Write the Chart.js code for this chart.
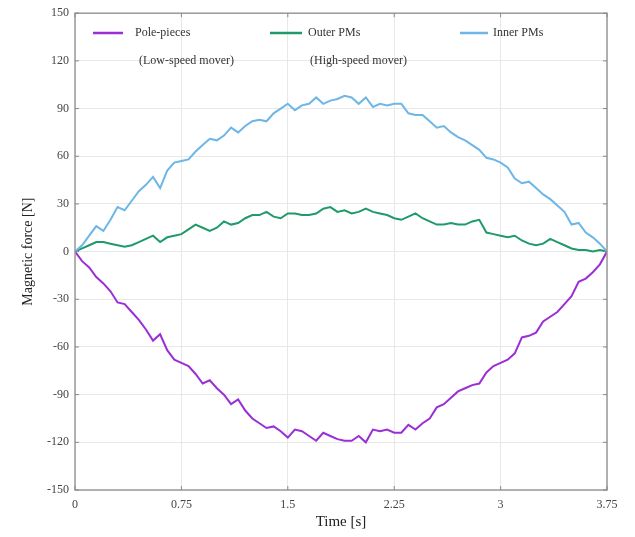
<!DOCTYPE html>
<html>
<head>
<meta charset="utf-8">
<script src="https://cdn.jsdelivr.net/npm/chart.js@4/dist/chart.umd.min.js"></script>
<style>
  html, body { margin: 0; padding: 0; background: #ffffff; }
  #wrap { width: 635px; height: 537px; }
</style>
</head>
<body>
<div id="wrap"><canvas id="c" width="635" height="537"></canvas></div>
<script>
// Time samples [s]
const time = [];
for (let i = 0; i <= 75; i++) time.push(+(i * 0.05).toFixed(2));

const seriesNames = ["Pole-pieces", "Outer PMs", "Inner PMs"];
const seriesSub = ["(Low-speed mover)", "(High-speed mover)", ""];

// Pole-pieces (Low-speed mover) [N]
const polePieces = [0, -6, -10, -16, -20, -25, -32, -33, -38, -43, -49, -56, -52, -62, -68, -70,
  -72, -77, -83, -81, -86, -90, -96, -93, -100, -105, -108, -111, -110, -113, -117, -112,
  -113, -116, -119, -114, -116, -118, -119, -119, -116, -120, -112, -113, -112, -114, -114,
  -109, -112, -108, -105, -98, -96, -92, -88, -86, -84, -83, -76, -72, -70, -68, -64, -54,
  -53, -51, -44, -41, -38, -33, -28, -19, -17, -13, -8, 0];

// Outer PMs (High-speed mover) [N]
const outerPMs = [0, 2, 4, 6, 6, 5, 4, 3, 4, 6, 8, 10, 6, 9, 10, 11, 14, 17, 15, 13, 15, 19, 17,
  18, 21, 23, 23, 25, 22, 21, 24, 24, 23, 23, 24, 27, 28, 25, 26, 24, 25, 27, 25, 24, 23, 21,
  20, 22, 24, 21, 19, 17, 17, 18, 17, 17, 19, 20, 12, 11, 10, 9, 10, 7, 5, 4, 5, 8, 6, 4, 2,
  1, 1, 0, 1, 0];

// Inner PMs [N]
const innerPMs = [0, 4, 10, 16, 13, 20, 28, 26, 32, 38, 42, 47, 40, 51, 56, 57, 58, 63, 67, 71,
  70, 73, 78, 75, 79, 82, 83, 82, 87, 90, 93, 89, 92, 93, 97, 93, 95, 96, 98, 97, 93, 97, 91,
  93, 92, 93, 93, 87, 86, 86, 82, 78, 79, 75, 72, 70, 67, 64, 59, 58, 56, 53, 46, 43, 44, 40,
  36, 33, 29, 25, 17, 18, 12, 9, 5, 0];

const xTicks = [0, 0.75, 1.5, 2.25, 3, 3.75];
const yTicks = [-150, -120, -90, -60, -30, 0, 30, 60, 90, 120, 150];

const colors = ["#9a2fd6", "#1f9a6a", "#6db6e6"];
const values = [polePieces, outerPMs, innerPMs];

const FONT = "'Liberation Serif', 'Times New Roman', serif";

const frameAndLegend = {
  id: 'frameAndLegend',
  afterDatasetsDraw(chart) {
    const { ctx, chartArea: a, scales } = chart;
    ctx.save();
    ctx.strokeStyle = '#9a9a9a';
    ctx.lineWidth = 1.5;
    ctx.strokeRect(a.left, a.top, a.right - a.left, a.bottom - a.top);
    // small inward tick marks
    ctx.strokeStyle = '#888';
    ctx.lineWidth = 1;
    ctx.beginPath();
    scales.y.ticks.forEach(t => {
      const y = scales.y.getPixelForValue(t.value);
      ctx.moveTo(a.left, y); ctx.lineTo(a.left + 4, y);
      ctx.moveTo(a.right, y); ctx.lineTo(a.right - 4, y);
    });
    scales.x.ticks.forEach(t => {
      const x = scales.x.getPixelForValue(t.value);
      ctx.moveTo(x, a.bottom); ctx.lineTo(x, a.bottom - 4);
      ctx.moveTo(x, a.top); ctx.lineTo(x, a.top + 4);
    });
    ctx.stroke();
    // legend
    const items = [
      { x0: 93, x1: 123, tx: 135, sx: 139 },
      { x0: 270, x1: 302, tx: 308, sx: 310 },
      { x0: 460, x1: 488, tx: 493, sx: 493 }
    ];
    ctx.font = "12px " + FONT;
    ctx.textBaseline = 'middle';
    ctx.textAlign = 'left';
    items.forEach((it, i) => {
      ctx.strokeStyle = colors[i];
      ctx.lineWidth = 2.5;
      ctx.beginPath();
      ctx.moveTo(it.x0, 33);
      ctx.lineTo(it.x1, 33);
      ctx.stroke();
      ctx.fillStyle = '#333';
      ctx.fillText(seriesNames[i], it.tx, 33);
      if (seriesSub[i]) ctx.fillText(seriesSub[i], it.sx, 61);
    });
    ctx.restore();
  }
};

new Chart(document.getElementById('c'), {
  type: 'line',
  data: {
    datasets: values.map((v, i) => ({
      label: seriesNames[i],
      data: time.map((t, k) => ({ x: t, y: v[k] })),
      borderColor: colors[i],
      borderWidth: 2,
      pointRadius: 0,
      tension: 0,
      fill: false
    })).reverse()
  },
  options: {
    responsive: false,
    animation: false,
    layout: { padding: { top: 10, right: 28, left: 20, bottom: 0 } },
    plugins: { legend: { display: false }, tooltip: { enabled: false } },
    scales: {
      x: {
        type: 'linear',
        min: 0, max: 3.75,
        afterBuildTicks(s) { s.ticks = xTicks.map(v => ({ value: v })); },
        afterFit(s) { s.height = 47; },
        grid: { color: '#e8e8e8', drawTicks: false },
        border: { display: false },
        ticks: {
          padding: 8,
          color: '#444',
          font: { family: FONT, size: 12 },
          callback: v => String(v)
        },
        title: {
          display: true, text: 'Time [s]', color: '#222',
          font: { family: FONT, size: 15 }, padding: { top: 0, bottom: 6 }
        }
      },
      y: {
        min: -150, max: 150,
        afterBuildTicks(s) { s.ticks = yTicks.map(v => ({ value: v })); },
        afterFit(s) { s.width = 55; },
        grid: { color: '#e8e8e8', drawTicks: false },
        border: { display: false },
        ticks: {
          padding: 6,
          color: '#444',
          font: { family: FONT, size: 12 },
          callback: v => String(v)
        },
        title: {
          display: true, text: 'Magnetic force [N]', color: '#222',
          font: { family: FONT, size: 14 }, padding: { top: 0, bottom: 4 }
        }
      }
    }
  },
  plugins: [frameAndLegend]
});
</script>
</body>
</html>
